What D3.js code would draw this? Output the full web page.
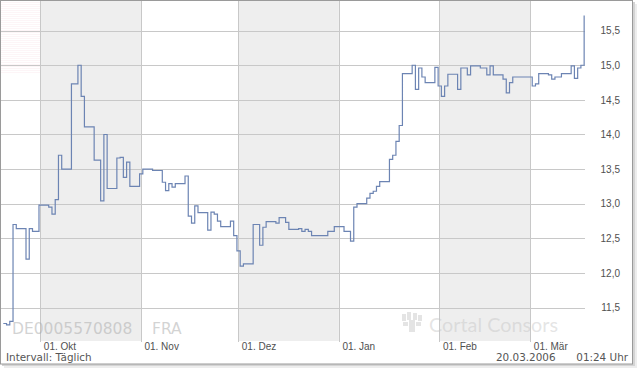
<!DOCTYPE html>
<html>
<head>
<meta charset="utf-8">
<script src="https://cdn.jsdelivr.net/npm/d3@7"></script>
<style>
  body { margin: 0; background: #fff; }
  svg { display: block; font-family: "DejaVu Sans", Verdana, sans-serif; }
  .axis path { display: none; }
  .axis line { stroke: #c8c8c8; shape-rendering: crispEdges; }
  .axis text { fill: #505050; font-size: 10px; }
</style>
</head>
<body>
<svg id="chart" width="640" height="370"></svg>
<script>
// Kursverlauf DE0005570808, Frankfurt, taeglich
var tradeDates = [
  "2005-09-19", "2005-09-20", "2005-09-21", "2005-09-22", "2005-09-23", "2005-09-26", "2005-09-27", "2005-09-28", "2005-09-30",
  "2005-10-03", "2005-10-04", "2005-10-05", "2005-10-06", "2005-10-07", "2005-10-10", "2005-10-12", "2005-10-13", "2005-10-14",
  "2005-10-17", "2005-10-19", "2005-10-20", "2005-10-21", "2005-10-24", "2005-10-25", "2005-10-26", "2005-10-27", "2005-10-28", "2005-10-31",
  "2005-11-01", "2005-11-04", "2005-11-07", "2005-11-08", "2005-11-09", "2005-11-10", "2005-11-11", "2005-11-14", "2005-11-15",
  "2005-11-16", "2005-11-17", "2005-11-18", "2005-11-21", "2005-11-22", "2005-11-23", "2005-11-24", "2005-11-25", "2005-11-28", "2005-11-29", "2005-11-30",
  "2005-12-01", "2005-12-02", "2005-12-05", "2005-12-07", "2005-12-08", "2005-12-09", "2005-12-12", "2005-12-13", "2005-12-15",
  "2005-12-16", "2005-12-19", "2005-12-20", "2005-12-21", "2005-12-22", "2005-12-23", "2005-12-28", "2005-12-30",
  "2006-01-02", "2006-01-04", "2006-01-05", "2006-01-06", "2006-01-09", "2006-01-10", "2006-01-11", "2006-01-12", "2006-01-13",
  "2006-01-16", "2006-01-17", "2006-01-18", "2006-01-19", "2006-01-20", "2006-01-23", "2006-01-24", "2006-01-25", "2006-01-26", "2006-01-27", "2006-01-30", "2006-01-31",
  "2006-02-01", "2006-02-02", "2006-02-03", "2006-02-06", "2006-02-07", "2006-02-09", "2006-02-10", "2006-02-13",
  "2006-02-15", "2006-02-16", "2006-02-17", "2006-02-20", "2006-02-21", "2006-02-22", "2006-02-23",
  "2006-03-01", "2006-03-02", "2006-03-03", "2006-03-06", "2006-03-07", "2006-03-08", "2006-03-10", "2006-03-13", "2006-03-14", "2006-03-15", "2006-03-16", "2006-03-17"
];
var closePrices = [
  11.27, 11.25, 11.30, 12.70, 12.64, 12.20, 12.64, 12.60, 12.98,
  12.95, 12.85, 13.06, 13.70, 13.50, 14.73, 15.00, 14.55, 14.11,
  13.63, 13.04, 14.00, 13.22, 13.66, 13.67, 13.38, 13.60, 13.25, 13.43,
  13.50, 13.48, 13.31, 13.19, 13.29, 13.24, 13.29, 13.40, 12.82,
  12.72, 12.97, 12.87, 12.62, 12.88, 12.85, 12.75, 12.67, 12.75, 12.54, 12.32,
  12.10, 12.13, 12.70, 12.40, 12.66, 12.74, 12.72, 12.80, 12.73,
  12.63, 12.64, 12.60, 12.63, 12.60, 12.54, 12.60, 12.67,
  12.60, 12.46, 12.95, 13.00, 13.08, 13.15, 13.18, 13.25, 13.32,
  13.64, 13.70, 13.90, 14.13, 14.88, 15.00, 14.65, 14.96, 14.83, 14.75, 14.97, 14.70,
  14.55, 14.70, 14.87, 14.65, 14.96, 14.86, 14.99, 14.96,
  14.86, 14.99, 14.86, 14.80, 14.60, 14.75, 14.83,
  14.70, 14.73, 14.88, 14.86, 14.80, 14.83, 14.88, 14.99, 14.81, 14.96, 15.00, 15.72
];
var monthStarts = ["2005-10-01", "2005-11-01", "2005-12-01", "2006-01-01", "2006-02-01", "2006-03-01"];
var monthLabels = ["01. Okt", "01. Nov", "01. Dez", "01. Jan", "01. Feb", "01. Mär"];
var shadedMonths = [["2005-10-01", "2005-11-01"], ["2005-12-01", "2006-01-01"], ["2006-02-01", "2006-03-01"]];
var yTicks = [11.5, 12.0, 12.5, 13.0, 13.5, 14.0, 14.5, 15.0, 15.5];

var parse = d3.timeParse("%Y-%m-%d");
var data = tradeDates.map(function(d, i) { return {date: parse(d), price: closePrices[i]}; });

var svg = d3.select("#chart");
var plot = {left: 1, right: 585, top: 1, bottom: 341};

var x = d3.scaleTime()
    .domain([parse("2005-09-19"), parse("2006-03-18")])
    .range([1.4, 585.5]);
var y = d3.scaleLinear()
    .domain([11, 16])
    .range([342.2, -4.0]);

// frame with shadow
svg.append("rect").attr("x", 4).attr("y", 4).attr("width", 633).attr("height", 364).attr("fill", "#ededed");
svg.append("rect").attr("x", 2).attr("y", 2).attr("width", 633).attr("height", 364).attr("fill", "#d4d4d4");
svg.append("rect")
    .attr("x", 0.5).attr("y", 0.5).attr("width", 632).attr("height", 363.5)
    .attr("fill", "#fff").attr("stroke", "#9a9a9a");

// faint stripes top left
var defs = svg.append("defs");
var pat = defs.append("pattern").attr("id", "stripes").attr("width", 4).attr("height", 2)
    .attr("patternUnits", "userSpaceOnUse");
pat.append("rect").attr("width", 4).attr("height", 1).attr("fill", "#fdf5f7");
svg.append("rect").attr("x", 1).attr("y", 1).attr("width", 39).attr("height", 72).attr("fill", "url(#stripes)");

// shaded months
svg.append("g").selectAll("rect")
  .data(shadedMonths)
  .enter().append("rect")
    .attr("x", function(d) { return x(parse(d[0])); })
    .attr("width", function(d) { return x(parse(d[1])) - x(parse(d[0])); })
    .attr("y", plot.top)
    .attr("height", plot.bottom - plot.top)
    .attr("fill", "#eeeeee");

// y grid + labels
var yAxis = svg.append("g")
    .attr("class", "axis")
    .attr("transform", "translate(" + plot.right + ",0)")
    .call(d3.axisRight(y).tickValues(yTicks).tickSize(-(plot.right - plot.left)).tickSizeOuter(0)
      .tickFormat(function(d) { return d3.format(".1f")(d).replace(".", ","); }));
yAxis.selectAll("text").attr("x", 35).attr("text-anchor", "end");

// x grid + labels
var xAxis = svg.append("g")
    .attr("class", "axis")
    .attr("transform", "translate(0,342)")
    .call(d3.axisBottom(x).tickValues(monthStarts.map(parse)).tickSize(-341).tickSizeOuter(0)
      .tickFormat(function(d, i) { return monthLabels[i]; }));
xAxis.selectAll("text").attr("y", 8).attr("dy", 0).attr("dx", 3).attr("text-anchor", "start");

// watermarks
var wm = svg.append("g").attr("fill", "#a8a8a8").attr("fill-opacity", 0.5);
wm.append("text").attr("x", 12).attr("y", 334.3).style("font-size", "15.5px").text("DE0005570808");
wm.append("text").attr("x", 152).attr("y", 334.3).style("font-size", "15.5px").text("FRA");

var logo = svg.append("g").attr("fill", "#c4c4c4").attr("fill-opacity", 0.45);
logo.append("rect").attr("x", 402).attr("y", 314).attr("width", 4).attr("height", 7);
logo.append("rect").attr("x", 407).attr("y", 312).attr("width", 4).attr("height", 8);
logo.append("rect").attr("x", 413).attr("y", 313).attr("width", 4).attr("height", 7);
logo.append("rect").attr("x", 418).attr("y", 315).attr("width", 4).attr("height", 6);
logo.append("rect").attr("x", 409).attr("y", 320).attr("width", 6).attr("height", 12);
logo.append("rect").attr("x", 403).attr("y", 322).attr("width", 5).attr("height", 4);
logo.append("rect").attr("x", 416).attr("y", 322).attr("width", 5).attr("height", 4);
logo.append("text").attr("x", 429).attr("y", 331.7)
    .attr("textLength", 129).attr("lengthAdjust", "spacingAndGlyphs")
    .style("font-family", "Lato, 'Open Sans', sans-serif").style("font-size", "19.5px")
    .text("Cortal Consors");

// price line
var line = d3.line()
    .curve(d3.curveStepAfter)
    .x(function(d) { return x(d3.timeHour.offset(d.date, 14)); })
    .y(function(d) { return y(d.price); });

svg.append("path")
    .datum(data)
    .attr("fill", "none")
    .attr("stroke", "#6c84b3")
    .attr("stroke-width", 1.2)
    .attr("d", line);

// footer
var foot = svg.append("g").attr("fill", "#555").style("font-size", "10.4px");
foot.append("text").attr("x", 6).attr("y", 361).text("Intervall: Täglich");
foot.append("text").attr("x", 496).attr("y", 361).text("20.03.2006");
foot.append("text").attr("x", 628).attr("y", 361).attr("text-anchor", "end").text("01:24 Uhr");
</script>
</body>
</html>
